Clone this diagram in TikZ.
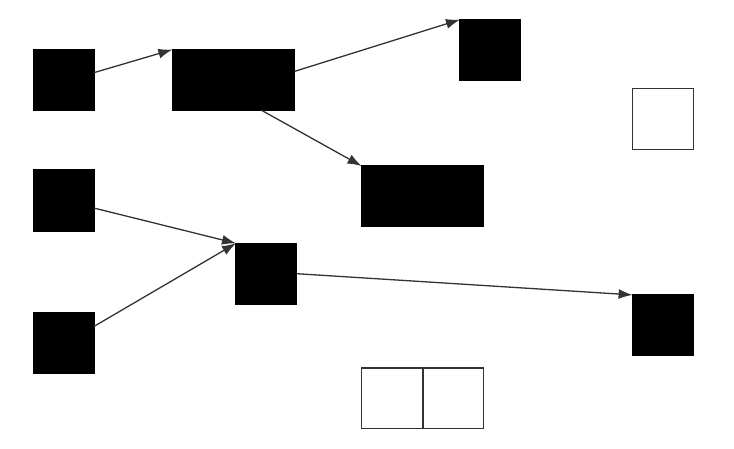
\documentclass[tikz,border=0pt]{standalone}
\usetikzlibrary{arrows.meta}
\begin{document}
\begin{tikzpicture}[x=1pt,y=1pt,
	blk/.style={draw, fill=black, line width=1.2pt, minimum width=60.8pt, minimum height=60.8pt, inner sep=0pt, outer sep=0pt},
	wht/.style={blk, fill=white, draw=black!80},
	wide/.style={minimum width=122.1pt},
	link/.style={draw=black!80, line width=1.3pt, -{Latex[length=14pt,width=10pt]}}]
		\useasboundingbox (0,0) rectangle (734,448);
		
		% top group
		\node[blk] (a1) at (63.7,367.8) {};
		\node[blk,wide] (a2) at (233.4,368) {};
		\node[blk] (a3) at (490.4,398) {};
		\node[blk,wide] (a4) at (422.6,251.6) {};
		
		\draw[link] (a1.14) -- (a2.north west);
		\draw[link] (a2.8) -- (a3.north west);
		\draw[link] (a2.-47) -- (a4.north west);
		
		% bottom group
		\node[blk] (b1) at (63.7,247.5) {};
		\node[blk] (b2) at (63.7,105.5) {};
		\node[blk] (b3) at (266.4,174.3) {};
		\node[blk] (b4) at (663,122.7) {};
		
		\draw[link] (b1.-14) -- (b3.north west);
		\draw[link] (b2.28) -- (b3.north west);
		\draw[link] (b3.east) -- (b4.north west);
		
		% empty boxes
		\node[wht] (e1) at (663,328.8) {};
		\node[wht] (e2) at (391.8,49.7) {};
		\node[wht] (e3) at (453.4,49.7) {};
		
\end{tikzpicture}
\end{document}
